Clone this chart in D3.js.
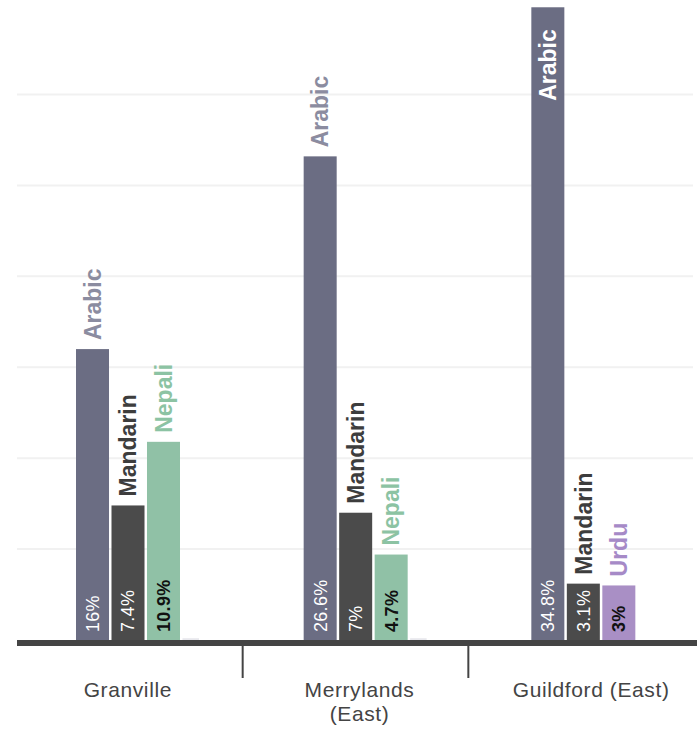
<!DOCTYPE html>
<html>
<head>
<meta charset="utf-8">
<script src="https://cdn.jsdelivr.net/npm/d3@7/dist/d3.min.js"></script>
<style>
  html, body { margin: 0; padding: 0; background: #fff; }
  svg { display: block; }
</style>
</head>
<body>
<svg id="chart" width="700" height="734"></svg>
<script>
// ---- data ----
const categories = ["Granville", "Merrylands (East)", "Guildford (East)"];
const categoryLabelLines = [["Granville"], ["Merrylands", "(East)"], ["Guildford (East)"]];
const groupLanguages = [
  ["Arabic", "Mandarin", "Nepali", "Other"],
  ["Arabic", "Mandarin", "Nepali", "Other"],
  ["Arabic", "Mandarin", "Urdu"]
];
const groupValues = [
  [16, 7.4, 10.9, 0.1],
  [26.6, 7, 4.7, 0.1],
  [34.8, 3.1, 3]
];
const gridTicks = [5, 10, 15, 20, 25, 30];

// ---- styles ----
const barColor = { Arabic: "#6b6d83", Mandarin: "#4b4b4b", Nepali: "#90c1a6", Urdu: "#a98fc5", Other: "#e8e8ed" };
const nameColor = { Arabic: "#8b8ca0", Mandarin: "#3d3d3d", Nepali: "#8cc3a3", Urdu: "#a68ac7", Other: "#e8e8ed" };
const valueColor = { Arabic: "#ffffff", Mandarin: "#ffffff", Nepali: "#111111", Urdu: "#111111" };
const FONT = "'Liberation Sans', Arial, sans-serif";

const svg = d3.select("#chart");

const y = d3.scaleLinear().domain([0, 35.2]).range([640, 0]);
const groupX = d3.scaleBand().domain(categories).range([17, 700]);
const slotX = d3.scaleBand().domain([0, 1, 2, 3]).range([59, 198.5]).paddingInner(0.07);
const axisX = d3.scaleBand().domain(categories).range([17, 694]);
const labelX = d3.scaleBand().domain(categories).range([12, 707]);

// gridlines
svg.append("g").selectAll("line").data(gridTicks).join("line")
  .attr("x1", 17).attr("x2", 693)
  .attr("y1", d => y(d)).attr("y2", d => y(d))
  .attr("stroke", "#f1f1f1").attr("stroke-width", 2);

// bars
const rows = [];
categories.forEach((c, gi) => {
  groupLanguages[gi].forEach((lang, si) => {
    rows.push({ cat: c, lang, si, value: groupValues[gi][si] });
  });
});

const bw = slotX.bandwidth();
const barX = d => groupX(d.cat) + slotX(d.si);

svg.append("g").selectAll("rect").data(rows).join("rect")
  .attr("x", d => barX(d))
  .attr("width", d => d.lang === "Other" ? bw / 2 : bw)
  .attr("y", d => y(d.value))
  .attr("height", d => y(0) - y(d.value))
  .attr("fill", d => barColor[d.lang]);

const main = rows.filter(d => d.lang !== "Other");

// value labels inside bars (rotated)
svg.append("g").selectAll("text").data(main).join("text")
  .attr("transform", d => `translate(${barX(d) + bw / 2},${y(0) - 8}) rotate(-90)`)
  .attr("dy", "0.36em")
  .attr("text-anchor", "start")
  .attr("font-family", FONT)
  .attr("font-size", 18)
  .attr("letter-spacing", 0.3)
  .attr("font-weight", d => valueColor[d.lang] === "#ffffff" ? 400 : 700)
  .attr("fill", d => valueColor[d.lang])
  .text(d => d.value + "%");

// series name labels (rotated)
svg.append("g").selectAll("text").data(main).join("text")
  .each(function (d) {
    const top = y(d.value);
    const inside = top < 90;
    d3.select(this)
      .attr("transform", inside
        ? `translate(${barX(d) + bw / 2},${top + 22}) rotate(-90)`
        : `translate(${barX(d) + bw / 2},${top - 9}) rotate(-90)`)
      .attr("text-anchor", inside ? "end" : "start")
      .attr("fill", inside ? "#ffffff" : nameColor[d.lang]);
  })
  .attr("dy", "0.36em")
  .attr("font-family", FONT)
  .attr("font-size", 23)
  .attr("font-weight", 700)
  .text(d => d.lang);

// baseline axis
svg.append("rect")
  .attr("x", 17).attr("width", 680)
  .attr("y", y(0)).attr("height", 6)
  .attr("fill", "#444444");

// dividers between categories
svg.append("g").selectAll("line").data(categories.slice(1)).join("line")
  .attr("x1", d => axisX(d)).attr("x2", d => axisX(d))
  .attr("y1", y(0) + 6).attr("y2", 678)
  .attr("stroke", "#444444").attr("stroke-width", 2);

// category labels
const lab = svg.append("g").selectAll("text").data(categories).join("text")
  .attr("x", d => labelX(d) + labelX.bandwidth() / 2)
  .attr("y", 697)
  .attr("text-anchor", "middle")
  .attr("font-family", FONT)
  .attr("font-size", 21)
  .attr("letter-spacing", 0.6)
  .attr("fill", "#444444");
lab.each(function (d, i) {
  d3.select(this).selectAll("tspan").data(categoryLabelLines[i]).join("tspan")
    .attr("x", labelX(d) + labelX.bandwidth() / 2)
    .attr("dy", (t, j) => j === 0 ? 0 : 24)
    .text(t => t);
});
</script>
</body>
</html>
